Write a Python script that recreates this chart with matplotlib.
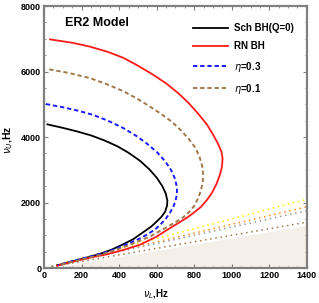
import matplotlib
matplotlib.use('Agg')
import matplotlib.pyplot as plt

plt.rcParams['font.family'] = ['Liberation Sans', 'DejaVu Sans']
plt.rcParams['mathtext.fontset'] = 'dejavusans'

# curves: upper branch -> tip -> lower branch
sch_x = [18, 100, 177, 250, 320, 390, 450, 510, 560, 600, 630, 648, 657, 655, 645, 625, 600, 570, 530, 475, 420, 360, 298, 230, 150, 70]
sch_y = [4387, 4280, 4170, 4050, 3900, 3720, 3520, 3280, 3020, 2760, 2500, 2280, 2060, 1900, 1720, 1560, 1420, 1260, 1100, 880, 720, 560, 430, 320, 200, 80]

rn_x = [32, 150, 245, 340, 422, 500, 582, 650, 715, 770, 820, 868, 900, 928, 945, 951, 948, 937, 918, 895, 868, 835, 800, 760, 720, 660, 600, 511, 422, 334, 245, 150, 70]
rn_y = [6982, 6880, 6760, 6600, 6420, 6180, 5900, 5640, 5340, 5040, 4720, 4380, 4080, 3780, 3550, 3350, 3100, 2850, 2560, 2300, 2080, 1860, 1700, 1530, 1390, 1180, 960, 710, 550, 417, 316, 190, 70]

eta3_x = [10, 100, 177, 260, 340, 420, 490, 550, 603, 645, 677, 698, 708, 708, 700, 688, 670, 648, 620, 590, 522, 424, 334, 245, 150, 75]
eta3_y = [5008, 4910, 4810, 4680, 4500, 4280, 4040, 3790, 3530, 3260, 2990, 2720, 2460, 2250, 2050, 1860, 1680, 1500, 1330, 1170, 930, 680, 490, 350, 210, 90]

eta1_x = [28, 130, 245, 340, 422, 500, 564, 625, 680, 730, 770, 805, 828, 842, 848, 845, 835, 820, 800, 775, 742, 700, 658, 564, 475, 387, 298, 200, 80]
eta1_y = [6066, 5960, 5800, 5600, 5400, 5160, 4930, 4700, 4470, 4200, 3950, 3680, 3400, 3120, 2850, 2600, 2360, 2120, 1900, 1720, 1550, 1400, 1260, 960, 750, 560, 400, 260, 90]

# resonance lines nu_U = ratio * nu_L
res_ratio = [1.5, 4 / 3, 1.25, 1.0]
res_colors = ['#ffff00', '#ff8c1a', '#999999', '#a0784a']
res_x = [40, 1400]

shade_x = [0, 40, 1400]
shade_y = [0, 0, 1300]

fig = plt.figure(figsize=(3.19, 3.03), dpi=100)
ax = fig.add_axes([0.138, 0.1155, 0.824, 0.8645])

ax.fill_between(shade_x, 0, shade_y, color='#f4efe9', lw=0, zorder=0)

for r, c in zip(res_ratio, res_colors):
    ax.plot(res_x, [r * v for v in res_x], color=c, lw=1.1, dashes=(1, 2.4), zorder=1)

ax.plot(sch_x, sch_y, color='black', lw=1.3, label='Sch BH(Q=0)', zorder=3)
ax.plot(rn_x, rn_y, color='#ff1a1a', lw=1.3, label='RN BH', zorder=3)
ax.plot(eta3_x, eta3_y, color='#1a1aff', lw=1.4, dashes=(2.2, 1.5), label=r'$\eta$=0.3', zorder=3)
ax.plot(eta1_x, eta1_y, color='#a0784a', lw=1.4, dashes=(2.2, 1.5), label=r'$\eta$=0.1', zorder=3)

ax.set_xlim(0, 1400)
ax.set_ylim(0, 8000)
ax.set_xticks(range(0, 1401, 200))
ax.set_yticks(range(0, 8001, 2000))
ax.set_xticks(range(0, 1401, 50), minor=True)
ax.set_yticks(range(0, 8001, 500), minor=True)

for s in ax.spines.values():
    s.set_color('#808080')
    s.set_linewidth(1.6)
ax.tick_params(which='both', direction='in', top=True, right=True, color='#808080')
ax.tick_params(which='major', length=3, width=0.8, labelsize=6.5, pad=2)
ax.tick_params(which='minor', length=1.6, width=0.6)
for lab in ax.get_xticklabels() + ax.get_yticklabels():
    lab.set_fontweight('bold')

ax.set_xlabel(r'$\nu_L$,Hz', fontsize=7, fontweight='bold')
ax.set_ylabel(r'$\nu_U$,Hz', fontsize=7.5, fontweight='bold')
ax.xaxis.set_label_coords(0.424, -0.075)
ax.yaxis.set_label_coords(-0.112, 0.49)

ax.text(0.08, 0.935, 'ER2 Model', transform=ax.transAxes, fontsize=9,
        fontweight='bold', va='center', ha='left')

ax.legend(loc='upper left', bbox_to_anchor=(0.565, 0.935), frameon=False,
          prop={'size': 7, 'weight': 'bold'}, handlelength=3.6,
          handletextpad=0.65, labelspacing=0.85, borderaxespad=0, borderpad=0)

fig.savefig('out.png', dpi=100)
